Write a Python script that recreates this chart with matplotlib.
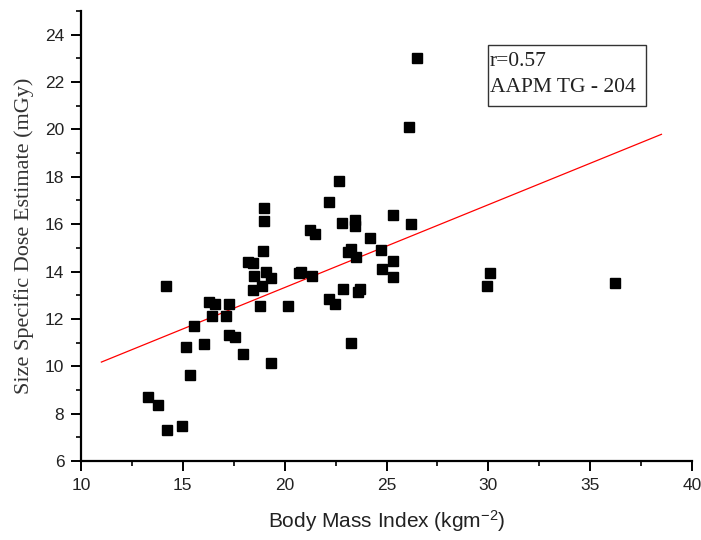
import numpy as np
import matplotlib
matplotlib.use("Agg")
import matplotlib.pyplot as plt
from matplotlib.patches import Rectangle
from matplotlib.ticker import MultipleLocator

plt.rcParams["mathtext.fontset"] = "custom"
plt.rcParams["mathtext.rm"] = "Liberation Sans"
plt.rcParams["mathtext.it"] = "Liberation Sans"

# BMI (kg/m^2) vs SSDE (mGy)
bmi = [13.27, 13.79, 14.21, 14.97, 14.16, 15.17, 15.37, 15.53, 16.05, 16.28,
       16.42, 16.58, 17.12, 17.25, 17.28, 17.56, 17.94, 18.18, 18.46, 18.49,
       18.46, 18.91, 18.79, 18.92, 18.97, 18.97, 19.06, 19.31, 19.33, 20.14,
       20.70, 20.79, 21.36, 21.26, 21.47, 22.19, 22.19, 22.45, 22.65, 22.80,
       22.85, 23.27, 23.24, 23.12, 23.49, 23.47, 23.47, 23.70, 23.61, 24.19,
       24.74, 24.79, 25.30, 25.30, 25.30, 26.22, 26.09, 26.48, 29.95, 30.06,
       36.21]
ssde = [8.69, 8.36, 7.31, 7.49, 13.38, 10.82, 9.64, 11.71, 10.94, 12.70,
        12.13, 12.61, 12.11, 12.61, 11.30, 11.22, 10.51, 14.42, 14.34, 13.82,
        13.22, 13.41, 12.55, 14.87, 16.69, 16.14, 13.97, 13.71, 10.15, 12.56,
        13.93, 13.99, 13.81, 15.75, 15.58, 16.92, 12.84, 12.65, 17.83, 16.03,
        13.26, 10.97, 14.97, 14.83, 14.62, 16.19, 15.91, 13.26, 13.14, 15.41,
        14.93, 14.09, 16.38, 14.45, 13.78, 15.99, 20.12, 23.02, 13.38, 13.92,
        13.52]

# linear fit as drawn in the figure
fit_slope = 0.3497
fit_intercept = 6.33
fit_range = [11.0, 38.5]

r_text = "r=0.57"
group_text = "AAPM TG - 204"

fig = plt.figure(figsize=(7.01, 5.4), dpi=100)
ax = fig.add_axes([81 / 701, 79 / 540, 611 / 701, 450 / 540])

ax.plot(bmi, ssde, "s", color="black", ms=6.8, mec="black", zorder=3)
xf = np.array(fit_range)
ax.plot(xf, fit_slope * xf + fit_intercept, color="red", lw=0.9, zorder=2)

ax.set_xlim(10, 40)
ax.set_ylim(6, 25)
ax.xaxis.set_major_locator(MultipleLocator(5))
ax.xaxis.set_minor_locator(MultipleLocator(2.5))
ax.yaxis.set_minor_locator(MultipleLocator(1))
ax.set_yticks([6, 8, 10, 12, 14, 16, 18, 20, 22, 24])

for s in ("top", "right"):
    ax.spines[s].set_visible(False)
for s in ("left", "bottom"):
    ax.spines[s].set_linewidth(1.6)
ax.tick_params(which="major", direction="out", length=7, width=1.4, pad=5,
               labelsize=12.5)
ax.tick_params(which="minor", direction="out", length=3.8, width=1.2)
for lab in ax.get_xticklabels() + ax.get_yticklabels():
    lab.set_fontfamily("Liberation Sans")
    lab.set_color("#222222")

ax.set_xlabel("Body Mass Index (kgm$^{\\mathrm{-2}}$)", fontsize=15,
              family="Liberation Sans", labelpad=11, color="#222222")
ax.set_ylabel("Size Specific Dose Estimate (mGy)", fontsize=16,
              family="Liberation Serif", labelpad=8, color="#333333")

ax.add_patch(Rectangle((0.6666, 0.7896), 0.2584, 0.1348, transform=ax.transAxes,
                       fill=False, edgecolor="#333333", lw=1.0, zorder=4))
ax.text(0.669, 0.887, r_text, transform=ax.transAxes, ha="left", va="center",
        fontsize=15.5, family="Liberation Serif", color="#222222")
ax.text(0.669, 0.829, group_text, transform=ax.transAxes, ha="left", va="center",
        fontsize=15.5, family="Liberation Serif", color="#222222")

fig.savefig("out.png", dpi=100)
